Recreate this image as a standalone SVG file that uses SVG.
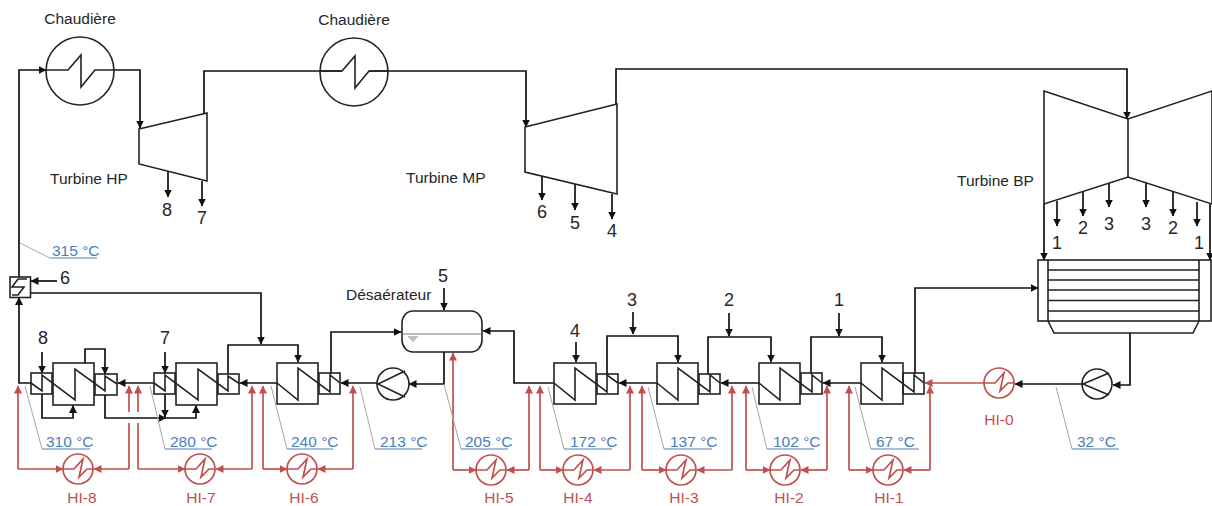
<svg xmlns="http://www.w3.org/2000/svg" width="1212" height="506" viewBox="0 0 1212 506">
<defs>
<marker id="a" viewBox="0 0 8 8" refX="7.5" refY="4" markerWidth="8" markerHeight="8" markerUnits="userSpaceOnUse" orient="auto"><path d="M0 0L8 4L0 8Z" fill="#111"/></marker>
<marker id="r" viewBox="0 0 8 8" refX="7.5" refY="4" markerWidth="8" markerHeight="8" markerUnits="userSpaceOnUse" orient="auto"><path d="M0 0L8 4L0 8Z" fill="#c0504d"/></marker>
</defs>
<style>
text{font-family:"Liberation Sans",Arial,sans-serif}
.s{fill:#fff;stroke:#222;stroke-width:1.6}
.n{fill:none;stroke:#222;stroke-width:1.6}
.c{fill:none;stroke:#111;stroke-width:1.7}
.ar{marker-end:url(#a)}
.rd{fill:none;stroke:#c0504d;stroke-width:1.7}
.rr{marker-end:url(#r)}
.rc{fill:#fff;stroke:#c0504d;stroke-width:1.7}
.g{fill:none;stroke:#a6a6a6;stroke-width:1}
.b{fill:none;stroke:#4a7ebb;stroke-width:1}
.t{font-size:15.5px;fill:#262626}
.d{font-size:18px;fill:#262626;text-anchor:middle}
.tb{font-size:15.5px;fill:#4a7ebb}
.th{font-size:15.5px;fill:#c0504d;text-anchor:middle}
</style>
<g id="connectors">
<path class="c ar" d="M31 383H19V297.500"/>
<path class="c ar" d="M19 277V70H46"/>
<path class="c ar" d="M114 70H140V128"/>
<path class="c" d="M204 113V71H342"/>
<path class="c ar" d="M369 71H526V127"/>
<path class="c ar" d="M616 104V69H1127V119"/>
<path class="c ar" d="M168 171V197"/>
<path class="c ar" d="M202 181V206"/>
<path class="c ar" d="M542 176V200"/>
<path class="c ar" d="M575 184V210"/>
<path class="c ar" d="M612 194V219"/>
<path class="c ar" d="M1057 201V226"/>
<path class="c ar" d="M1083 192V216"/>
<path class="c ar" d="M1109 183V207"/>
<path class="c ar" d="M1146 183V207"/>
<path class="c ar" d="M1173 192V216"/>
<path class="c ar" d="M1197 202V226"/>
<path class="c ar" d="M1044 204V260"/>
<path class="c ar" d="M1210 204V260"/>
<path class="c ar" d="M57 281H31"/>
<path class="c ar" d="M30 293H261V344"/>
<path class="c ar" d="M228 374V345H298V362"/>
<path class="c ar" d="M331 374V332H401"/>
<path class="c ar" d="M277 383H240"/>
<path class="c ar" d="M154 383H118"/>
<path class="c ar" d="M377 383H341"/>
<path class="c ar" d="M444 352V384H409"/>
<path class="c ar" d="M42 352V373"/>
<path class="c ar" d="M165 352V373"/>
<path class="c ar" d="M42 394V418H73V405.500"/>
<path class="c ar" d="M85 363V349H105V374"/>
<path class="c ar" d="M105 395V418H166"/>
<path class="c ar" d="M165 394V417"/>
<path class="c ar" d="M166 418H196V405.500"/>
<path class="c ar" d="M444 288V310"/>
<path class="c ar" d="M554 383H514V331H483"/>
<path class="c ar" d="M657 383H619"/>
<path class="c ar" d="M759 383H721"/>
<path class="c ar" d="M861 383H823"/>
<path class="c ar" d="M576 342V362"/>
<path class="c ar" d="M633 312V334"/>
<path class="c ar" d="M607 374V336H678V362"/>
<path class="c ar" d="M729 313V336"/>
<path class="c ar" d="M708 374V337H771V362"/>
<path class="c ar" d="M839 313V336"/>
<path class="c ar" d="M811 374V337H882V362"/>
<path class="c ar" d="M915 374V288H1038"/>
<path class="c ar" d="M1130 333V385H1113"/>
<path class="c ar" d="M1082 384H1015"/>
<path class="rd rr" d="M984 383H925"/>
<path class="rd rr" d="M18 469V386"/>
<path class="rd rr" d="M18 469H63"/>
<path class="rd rr" d="M129 469H94"/>
<path class="rd" d="M129 469V423"/>
<path class="rd rr" d="M129 412V386"/>
<path class="rd" d="M138 469V423"/>
<path class="rd rr" d="M138 412V386"/>
<path class="rd rr" d="M138 469H185"/>
<path class="rd rr" d="M252 469H216"/>
<path class="rd rr" d="M252 469V386"/>
<path class="rd rr" d="M263 469V386"/>
<path class="rd rr" d="M263 469H287"/>
<path class="rd rr" d="M353 469H318"/>
<path class="rd rr" d="M353 469V386"/>
<path class="rd rr" d="M453 470V353"/>
<path class="rd rr" d="M453 470H476"/>
<path class="rd rr" d="M529 470H507"/>
<path class="rd rr" d="M529 470V386"/>
<path class="rd rr" d="M540 470V386"/>
<path class="rd rr" d="M540 470H563"/>
<path class="rd rr" d="M630 470H594"/>
<path class="rd rr" d="M630 470V386"/>
<path class="rd rr" d="M642 470V386"/>
<path class="rd rr" d="M642 470H666"/>
<path class="rd rr" d="M732 470H697"/>
<path class="rd rr" d="M732 470V386"/>
<path class="rd rr" d="M746 470V386"/>
<path class="rd rr" d="M746 470H770"/>
<path class="rd rr" d="M827 470H801"/>
<path class="rd rr" d="M827 470V386"/>
<path class="rd rr" d="M849 470V386"/>
<path class="rd rr" d="M849 470H873"/>
<path class="rd rr" d="M930 470H904"/>
<path class="rd rr" d="M930 470V386"/>
</g>
<g id="leaders">
<path class="g" d="M20 243L50 258"/><path class="b" d="M50 258H97"/>
<path class="g" d="M25 386L42 449"/><path class="b" d="M42 449H90"/>
<path class="g" d="M150 386L165 449"/><path class="b" d="M165 449H212"/>
<path class="g" d="M271 386L287 449"/><path class="b" d="M287 449H333"/>
<path class="g" d="M360 387L375 449"/><path class="b" d="M375 449H422"/>
<path class="g" d="M444 384L461 449"/><path class="b" d="M461 449H508"/>
<path class="g" d="M548 387L564 449"/><path class="b" d="M564 449H612"/>
<path class="g" d="M648 387L664 449"/><path class="b" d="M664 449H712"/>
<path class="g" d="M752 387L767 449"/><path class="b" d="M767 449H814"/>
<path class="g" d="M855 387L871 449"/><path class="b" d="M871 449H919"/>
<path class="g" d="M1056 387L1072 449"/><path class="b" d="M1072 449H1119"/>
</g>
<g id="boiler1"><circle class="n" cx="80" cy="71" r="34"/><path class="n" d="M46 70H68L81 55V87L95 70H114"/><text class="t" x="80" y="24" text-anchor="middle">Chaudière</text></g>
<g id="boiler2"><circle class="n" cx="354" cy="72" r="34"/><path class="n" d="M320 71H342L355 56V88L369 71H388"/><text class="t" x="354" y="25" text-anchor="middle">Chaudière</text></g>
<g id="turbine-hp"><path class="n" d="M139 129L207 113V181L139 164Z"/><text class="t" x="50" y="184">Turbine HP</text></g>
<g id="turbine-mp"><path class="n" d="M525 127L617 104V194L525 172Z"/><text class="t" x="406" y="183">Turbine MP</text></g>
<g id="turbine-bp"><path class="n" d="M1044 91L1128 119L1212 91V204L1128 177L1044 204Z"/><path class="n" d="M1128 119V177"/><text class="t" x="957" y="186">Turbine BP</text></g>
<g id="condenser"><rect class="n" x="1038" y="260" width="173" height="61"/><path class="n" d="M1048 260V321M1199 260V321M1048 270H1199M1048 280H1199M1048 290H1199M1048 300.500H1199M1048 311H1199M1048 321L1054 333H1193L1199 321"/></g>
<g id="hx6-top"><rect class="n" x="10" y="277" width="20.500" height="20.500"/><path class="n" d="M27 279H18L12 287H24L18 295H12"/></g>
<g id="hx8"><rect class="n" x="31" y="373" width="21" height="21"/><rect class="n" x="53" y="363" width="41" height="42"/><rect class="n" x="95" y="374" width="22" height="21"/><path class="n" d="M31 383L42 391V375L75 400V369L105 391V376L117 384"/></g>
<g id="hx7"><rect class="n" x="154" y="373" width="21" height="21"/><rect class="n" x="176" y="363" width="41" height="42"/><rect class="n" x="218" y="374" width="21" height="20"/><path class="n" d="M154 383L165 391V375L198 400V369L228 391V376L240 384"/></g>
<g id="hx6"><rect class="n" x="277" y="363" width="41" height="41"/><rect class="n" x="319" y="373" width="21" height="21"/><path class="n" d="M277 383L298 400V368L330 392V375L340 383"/></g>
<g id="hx4"><rect class="n" x="554" y="363" width="42" height="41"/><rect class="n" x="597" y="374" width="21" height="20"/><path class="n" d="M554 383L575 400V368L607 392V375L618 383"/></g>
<g id="hx3"><rect class="n" x="657" y="363" width="41" height="41"/><rect class="n" x="699" y="374" width="21" height="20"/><path class="n" d="M657 383L678 400V368L710 392V375L720 383"/></g>
<g id="hx2"><rect class="n" x="759" y="363" width="41" height="41"/><rect class="n" x="801" y="373" width="21" height="21"/><path class="n" d="M759 383L780 400V368L812 392V375L822 383"/></g>
<g id="hx1"><rect class="n" x="861" y="363" width="42" height="41"/><rect class="n" x="903" y="373" width="21" height="21"/><path class="n" d="M861 383L882 400V368L914 392V375L924 383"/></g>
<g id="deaerator"><rect class="s" x="402" y="311" width="80" height="41" rx="11" ry="12"/><path d="M402.800 334H481.200" fill="none" stroke="#a6a6a6" stroke-width="1.500"/><path d="M408 337H418M410 339H416M412 341H414" fill="none" stroke="#808080" stroke-width="1"/><text class="t" x="346" y="300">Désaérateur</text></g>
<g id="pump1"><circle class="s" cx="393" cy="384" r="16"/><path class="n" d="M405 371L378 384L405 397"/></g>
<g id="pump2"><circle class="s" cx="1097" cy="384" r="15"/><path class="n" d="M1109 373L1083 384L1109 395"/></g>
<g id="hi0"><circle class="rc" cx="999" cy="383" r="15"/><path class="rd" d="M984 383H995L1004 373L1000 391L1008 383H1014"/><text class="th" x="999" y="425">HI-0</text></g>
<g id="hi1"><circle class="rc" cx="888" cy="470" r="15"/><path class="rd" d="M873 470H884L893 460L889 478L897 470H903"/><text class="th" x="889" y="503">HI-1</text></g>
<g id="hi2"><circle class="rc" cx="785" cy="470" r="15"/><path class="rd" d="M770 470H781L790 460L786 478L794 470H800"/><text class="th" x="789" y="503">HI-2</text></g>
<g id="hi3"><circle class="rc" cx="681" cy="470" r="15"/><path class="rd" d="M666 470H677L686 460L682 478L690 470H696"/><text class="th" x="684" y="503">HI-3</text></g>
<g id="hi4"><circle class="rc" cx="578" cy="470" r="15"/><path class="rd" d="M563 470H574L583 460L579 478L587 470H593"/><text class="th" x="578" y="503">HI-4</text></g>
<g id="hi5"><circle class="rc" cx="491" cy="470" r="15"/><path class="rd" d="M476 470H487L496 460L492 478L500 470H506"/><text class="th" x="499" y="503">HI-5</text></g>
<g id="hi6"><circle class="rc" cx="302" cy="469" r="15"/><path class="rd" d="M287 469H298L307 459L303 477L311 469H317"/><text class="th" x="304" y="503">HI-6</text></g>
<g id="hi7"><circle class="rc" cx="200" cy="469" r="15"/><path class="rd" d="M185 469H196L205 459L201 477L209 469H215"/><text class="th" x="201" y="503">HI-7</text></g>
<g id="hi8"><circle class="rc" cx="78" cy="469" r="15"/><path class="rd" d="M63 469H74L83 459L79 477L87 469H93"/><text class="th" x="82" y="503">HI-8</text></g>
<g id="labels">
<text class="d" x="167" y="216">8</text><text class="d" x="202" y="224">7</text>
<text class="d" x="542" y="218">6</text><text class="d" x="575" y="229">5</text><text class="d" x="612" y="237">4</text>
<text class="d" x="1057" y="249">1</text><text class="d" x="1083" y="234">2</text><text class="d" x="1109" y="230">3</text><text class="d" x="1146" y="230">3</text><text class="d" x="1173" y="234">2</text><text class="d" x="1199" y="249">1</text>
<text class="d" x="65" y="284">6</text><text class="d" x="43" y="344">8</text><text class="d" x="165" y="344">7</text><text class="d" x="443" y="282">5</text><text class="d" x="575" y="337">4</text><text class="d" x="632" y="306">3</text><text class="d" x="729" y="306">2</text><text class="d" x="839" y="306">1</text>
<text class="tb" x="52" y="256">315 °C</text><text class="tb" x="46" y="447">310 °C</text><text class="tb" x="170" y="447">280 °C</text><text class="tb" x="291" y="447">240 °C</text><text class="tb" x="380" y="447">213 °C</text><text class="tb" x="465" y="447">205 °C</text><text class="tb" x="570" y="447">172 °C</text><text class="tb" x="670" y="447">137 °C</text><text class="tb" x="773" y="447">102 °C</text><text class="tb" x="876" y="447">67 °C</text><text class="tb" x="1077" y="447">32 °C</text>
</g>
</svg>
